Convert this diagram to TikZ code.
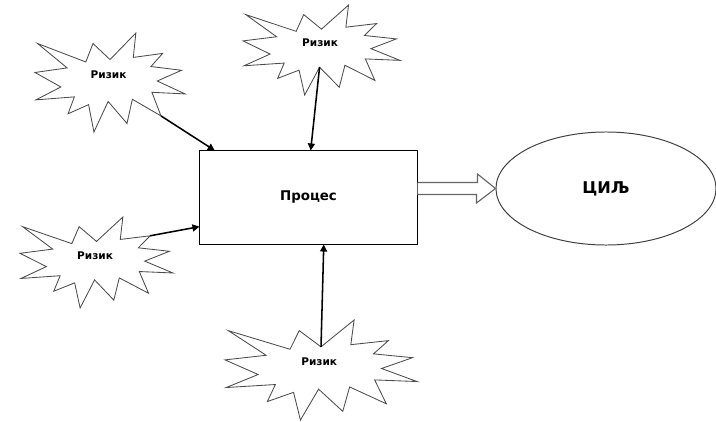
\documentclass[tikz,border=0pt]{standalone}
\usepackage{fontspec}
\setsansfont{DejaVu Sans}
\usetikzlibrary{shapes.geometric,arrows.meta,positioning,calc}

% corner points of one explosion, in a 216 x 216 box
\def\burstpts{145.22/0, 141.55/53.25, 183.80/44.57, 167.02/73.15, 210.97/81.37,
  176.07/104.75, 216/132.90, 168.37/129.42, 181.45/180.95, 140.20/144.57,
  132.47/197.37, 105.32/149.35, 84.85/216, 77.15/156.27, 47.62/176.17,
  56.67/139.37, 1.35/145.87, 37.22/117.75, 0/86.15, 46.27/76.17,
  3.70/22.95, 73.12/63.20, 83.52/22.95}

% name, left, top, width, height
\newcommand{\riskburst}[5]{%
  \begin{scope}[shift={(#2,#3)}, xscale=#4/216, yscale=#5/216]
    \draw[burst] (108,58) coordinate (#1-1)
      \foreach \px/\py [count=\i from 2] in \burstpts {-- (\px,\py) coordinate (#1-\i)} -- cycle;
    \node[risk] (#1) at (106,91) {Ризик};
  \end{scope}}

\begin{document}
\begin{tikzpicture}[
    x=0.025cm, y=-0.025cm,
    burst/.style={draw=black!70, line width=0.6pt, fill=white},
    risk/.style={font=\sffamily\bfseries\fontsize{7.5}{9}\selectfont, inner sep=0pt},
    box/.style={rectangle, draw, line width=0.7pt, minimum width=5.425cm, minimum height=2.325cm,
      font=\sffamily\bfseries\fontsize{9.5}{11}\selectfont},
    goalshape/.style={ellipse, draw=black!75, line width=0.7pt, inner sep=0pt, minimum width=5.5cm,
      minimum height=2.825cm, font=\sffamily\bfseries\fontsize{11.5}{13}\selectfont},
    arrow/.style={-{Triangle[length=5pt, width=5pt]}, line width=1.1pt},
    blockarrow/.style={draw=black!60, line width=0.8pt, fill=white}
]
    \useasboundingbox (0,0) rectangle (716,421);

    \node[box] (proc) at (308.5,197.5) {Процес};
    \node[goalshape] (goal) at (606,188.5) {ЦИЉ};

    \riskburst{r1}{35}{33}{150}{99}
    \riskburst{r2}{243}{5}{157}{90}
    \riskburst{r3}{20}{217}{153}{91}
    \riskburst{r4}{225}{320}{192}{100}

    \draw[arrow] (r1-10) -- ($(proc.north west)!0.07!(proc.north east)$);
    \draw[arrow] (r2-13) -- ($(proc.north west)!0.51!(proc.north east)$);
    \draw[arrow] (r3-4) -- ($(proc.north west)!0.81!(proc.south west)$);
    \draw[arrow] (r4-1) -- ($(proc.south west)!0.57!(proc.south east)$);

    \draw[blockarrow] ($(proc.east |- goal.west)+(0,-6)$) -- ++(60,0) -- ++(0,-8.5) -- (goal.west)
      -- ++(-19,14.5) -- ++(0,-8.5) -- ($(proc.east |- goal.west)+(0,6)$);
\end{tikzpicture}
\end{document}
